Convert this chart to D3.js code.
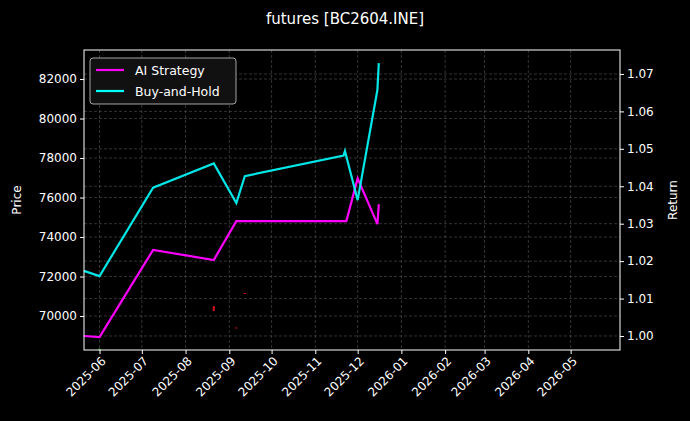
<!DOCTYPE html>
<html>
<head>
<meta charset="utf-8">
<script src="https://cdn.jsdelivr.net/npm/d3@7"></script>
<style>
body { margin: 0; background: #000; }
text { font-family: "DejaVu Sans", sans-serif; fill: #fff; }
</style>
</head>
<body>
<svg id="chart" width="690" height="421"></svg>
<script>
var aiDates = ["2025-05-21", "2025-06-01", "2025-07-09", "2025-08-21", "2025-09-06", "2025-11-23", "2025-12-01", "2025-12-15", "2025-12-16"];
var aiReturn = [1.0000, 0.9997, 1.0230, 1.0203, 1.0307, 1.0307, 1.0421, 1.0299, 1.0352];

var bhDates = ["2025-05-21", "2025-06-01", "2025-07-09", "2025-08-21", "2025-09-06", "2025-09-12", "2025-11-21", "2025-11-22", "2025-12-01", "2025-12-15", "2025-12-16"];
var bhReturn = [1.0174, 1.0160, 1.0396, 1.0461, 1.0355, 1.0427, 1.0482, 1.0494, 1.0363, 1.0657, 1.0729];

var candleDates = ["2025-06-01", "2025-08-21", "2025-09-06", "2025-09-12"];
var candleOpen = [68250, 70500, 69420, 71170];
var candleClose = [68350, 70250, 69380, 71130];

var priceTicks = [70000, 72000, 74000, 76000, 78000, 80000, 82000];
var returnTicks = [1.00, 1.01, 1.02, 1.03, 1.04, 1.05, 1.06, 1.07];

var parse = d3.timeParse("%Y-%m-%d");
var margin = { top: 50, right: 70, bottom: 71, left: 84 };
var width = 690 - margin.left - margin.right;
var height = 421 - margin.top - margin.bottom;

var svg = d3.select("#chart");
svg.append("rect").attr("width", 690).attr("height", 421).attr("fill", "#000");

var x = d3.scaleTime()
	.domain([parse("2025-05-21"), parse("2026-06-05")])
	.range([0, width]);
var yPrice = d3.scaleLinear().domain([68280, 83470]).range([height, 0]);
var yRet = d3.scaleLinear().domain([0.99626, 1.0764]).range([height, 0]);

var g = svg.append("g").attr("transform", "translate(" + margin.left + "," + margin.top + ")");

// grid
var months = d3.timeMonth.range(parse("2025-06-01"), parse("2026-05-02"));
g.append("g").selectAll("line").data(months).enter().append("line")
	.attr("x1", d => x(d)).attr("x2", d => x(d)).attr("y1", 0).attr("y2", height)
	.attr("stroke", "#555").attr("stroke-width", 0.6).attr("stroke-dasharray", "3,2");
g.append("g").selectAll("line").data(priceTicks).enter().append("line")
	.attr("x1", 0).attr("x2", width).attr("y1", d => yPrice(d)).attr("y2", d => yPrice(d))
	.attr("stroke", "#555").attr("stroke-width", 0.6).attr("stroke-dasharray", "3,2");
g.append("g").selectAll("line").data(returnTicks).enter().append("line")
	.attr("x1", 0).attr("x2", width).attr("y1", d => yRet(d)).attr("y2", d => yRet(d))
	.attr("stroke", "#555").attr("stroke-width", 0.6).attr("stroke-dasharray", "3,2");

// candles
var candles = candleDates.map((d, i) => ({ date: parse(d), o: candleOpen[i], c: candleClose[i] }));
g.append("g").selectAll("rect").data(candles).enter().append("rect")
	.attr("x", d => x(d.date) - 1)
	.attr("width", 2)
	.attr("y", d => yPrice(Math.max(d.o, d.c)))
	.attr("height", d => Math.max(1, Math.abs(yPrice(d.o) - yPrice(d.c))))
	.attr("fill", d => d.c >= d.o ? "#2ca02c" : "#e0101a");

// lines
var line = d3.line().x(d => x(d.date)).y(d => yRet(d.v));
var ai = aiDates.map((d, i) => ({ date: parse(d), v: aiReturn[i] }));
var bh = bhDates.map((d, i) => ({ date: parse(d), v: bhReturn[i] }));
g.append("path").datum(ai).attr("d", line).attr("fill", "none")
	.attr("stroke", "#ff00ff").attr("stroke-width", 2.2);
g.append("path").datum(bh).attr("d", line).attr("fill", "none")
	.attr("stroke", "#00ffff").attr("stroke-opacity", 0.9).attr("stroke-width", 2.2);

// axes
var xAxis = g.append("g").attr("transform", "translate(0," + height + ")")
	.call(d3.axisBottom(x).tickValues(months).tickFormat(d3.timeFormat("%Y-%m")).tickSize(4));
xAxis.selectAll("text")
	.style("font-size", "12px")
	.attr("text-anchor", "end")
	.attr("dx", "-0.3em").attr("dy", "0.5em")
	.attr("transform", "rotate(-45)");
var yl = g.append("g").call(d3.axisLeft(yPrice).tickValues(priceTicks).tickFormat(d3.format("d")).tickSize(4));
var yr = g.append("g").attr("transform", "translate(" + width + ",0)")
	.call(d3.axisRight(yRet).tickValues(returnTicks).tickFormat(d3.format(".2f")).tickSize(4));
[xAxis, yl, yr].forEach(function(a) {
	a.selectAll("path, line").attr("stroke", "#fff");
	a.selectAll("text").style("font-size", "12px").attr("fill", "#fff");
	a.select(".domain").remove();
});
g.append("rect").attr("width", width).attr("height", height)
	.attr("fill", "none").attr("stroke", "#fff").attr("stroke-width", 1);

// labels
svg.append("text").attr("x", 345).attr("y", 24).attr("text-anchor", "middle")
	.style("font-size", "15px").text("futures [BC2604.INE]");
svg.append("text").attr("transform", "translate(21," + (margin.top + height / 2) + ") rotate(-90)")
	.attr("text-anchor", "middle").style("font-size", "12px").text("Price");
svg.append("text").attr("transform", "translate(677," + (margin.top + height / 2) + ") rotate(-90)")
	.attr("text-anchor", "middle").style("font-size", "12px").text("Return");

// legend
var leg = svg.append("g").attr("transform", "translate(90,58)");
leg.append("rect").attr("width", 146).attr("height", 46).attr("rx", 3)
	.attr("fill", "#111").attr("stroke", "#ccc").attr("stroke-width", 0.8);
var items = [["AI Strategy", "#ff00ff"], ["Buy-and-Hold", "#00ffff"]];
items.forEach(function(it, i) {
	var yy = 12 + i * 21;
	leg.append("line").attr("x1", 6).attr("x2", 34).attr("y1", yy).attr("y2", yy)
		.attr("stroke", it[1]).attr("stroke-width", 2.2);
	leg.append("text").attr("x", 45).attr("y", yy + 4.5).style("font-size", "12.5px").text(it[0]);
});
</script>
</body>
</html>
